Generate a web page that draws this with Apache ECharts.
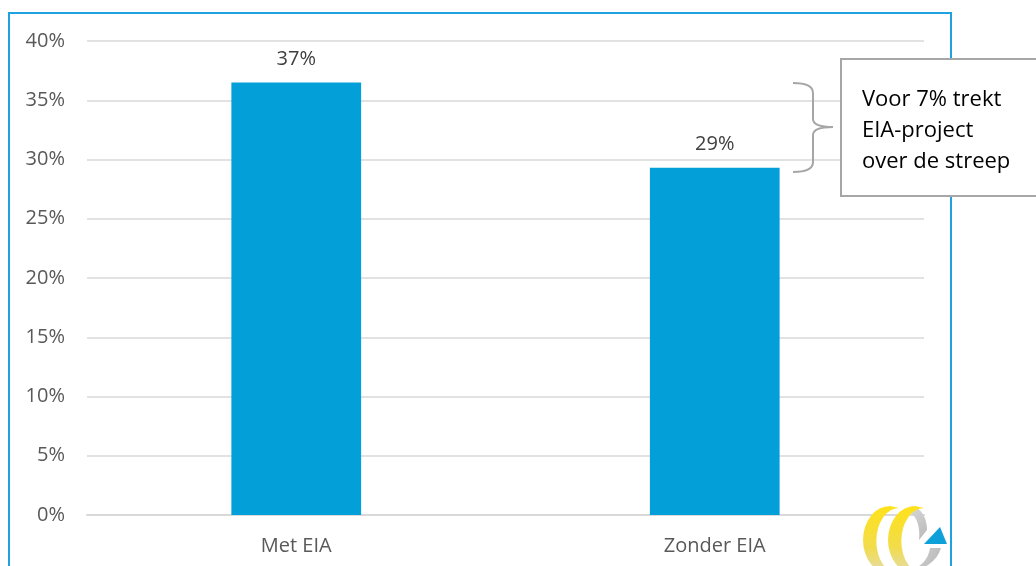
<!DOCTYPE html>
<html>
<head>
<meta charset="utf-8">
<script src="https://cdn.jsdelivr.net/npm/echarts@6/dist/echarts.min.js"></script>
<style>html,body{margin:0;padding:0;background:#fff}#c{width:1036px;height:566px}</style>
</head>
<body>
<div id="c"></div>
<script>
const categories = ['Met EIA', 'Zonder EIA'];
const values = [36.5, 29.3];
const yTicks = [0, 5, 10, 15, 20, 25, 30, 35, 40];
const noteLines = ['Voor 7% trekt', 'EIA-project', 'over de streep'];

const font = '"Open Sans", Lato, sans-serif';
const yellowGrad = () => ({ type: 'linear', x: 0, y: 0, x2: 0, y2: 1,
  colorStops: [{ offset: 0, color: '#ffe21a' }, { offset: 0.6, color: '#f2dc4a' }, { offset: 1, color: '#e3dcb0' }] });
const grayGrad = () => ({ type: 'linear', x: 0, y: 0, x2: 1, y2: 1,
  colorStops: [{ offset: 0, color: '#d8d8d8' }, { offset: 1, color: '#b8b8b8' }] });

function decorations() {
  return {
    type: 'group',
    children: [
      { type: 'path', shape: { pathData: 'M793,83 Q813,83 813,93 L813,119 Q813,127 833,127 Q813,127 813,135 L813,162 Q813,172 793,172' },
        style: { fill: 'none', stroke: '#a6a6a6', lineWidth: 2 } },
      { type: 'path', shape: { pathData: 'M912,506 A17,24 0 0 1 927,530 L919,540 A11,22 0 0 0 907,513 Z' },
        style: { fill: grayGrad() } },
      { type: 'path', shape: { pathData: 'M941,548 A32,30 0 0 1 908,570 L898,570 A26,26 0 0 0 930,548 Z' },
        style: { fill: grayGrad() } },
      { type: 'path', shape: { pathData: 'M890,506 A27,34 0 0 0 890,574 L899,574 A22,32 0 0 1 899,508 Z' },
        style: { fill: yellowGrad() } },
      { type: 'path', shape: { pathData: 'M915,506 A27,34 0 0 0 915,574 L924,574 A22,32 0 0 1 924,508 Z' },
        style: { fill: yellowGrad() } },
      { type: 'polygon', shape: { points: [[940, 527], [924, 544], [947, 544]] },
        style: { fill: '#0ea0d8' } }
    ]
  };
}

const chart = echarts.init(document.getElementById('c'));
chart.setOption({
  animation: false,
  grid: { left: 87, right: 112, top: 41, bottom: 51 },
  xAxis: {
    type: 'category',
    data: categories,
    axisLine: { show: true, lineStyle: { color: '#d9d9d9', width: 2 } },
    axisTick: { show: false },
    axisLabel: { margin: 21, color: '#595959', fontSize: 20, fontFamily: font }
  },
  yAxis: {
    type: 'value',
    min: yTicks[0], max: yTicks[yTicks.length - 1], interval: 5,
    axisLine: { show: false },
    axisTick: { show: false },
    splitLine: { lineStyle: { color: '#d9d9d9', width: 1.5 } },
    axisLabel: { margin: 22, color: '#595959', fontSize: 20, fontFamily: font, formatter: v => v + '%' }
  },
  series: [{
    type: 'bar',
    data: values,
    barWidth: '31%',
    itemStyle: { color: '#029fd9' },
    label: {
      show: true, position: 'top', distance: 13,
      color: '#404040', fontSize: 20, fontFamily: font,
      formatter: p => Math.round(p.value) + '%'
    }
  }, {
    type: 'custom',
    coordinateSystem: 'none',
    silent: true,
    z: 20,
    data: [0],
    renderItem: decorations
  }],
  graphic: [
    { type: 'rect', shape: { x: 9, y: 13, width: 942, height: 570 },
      style: { fill: 'none', stroke: '#1fa3e0', lineWidth: 2 }, z: 0 },
    { type: 'rect', shape: { x: 841, y: 59, width: 200, height: 137 },
      style: { fill: '#fff', stroke: '#a6a6a6', lineWidth: 2 }, z: 10 },
    { type: 'text', left: 862, top: 84, z: 11,
      style: { text: noteLines.join('\n'), font: '22px ' + font, fill: '#000', lineHeight: 31 } }
  ]
});
</script>
</body>
</html>
